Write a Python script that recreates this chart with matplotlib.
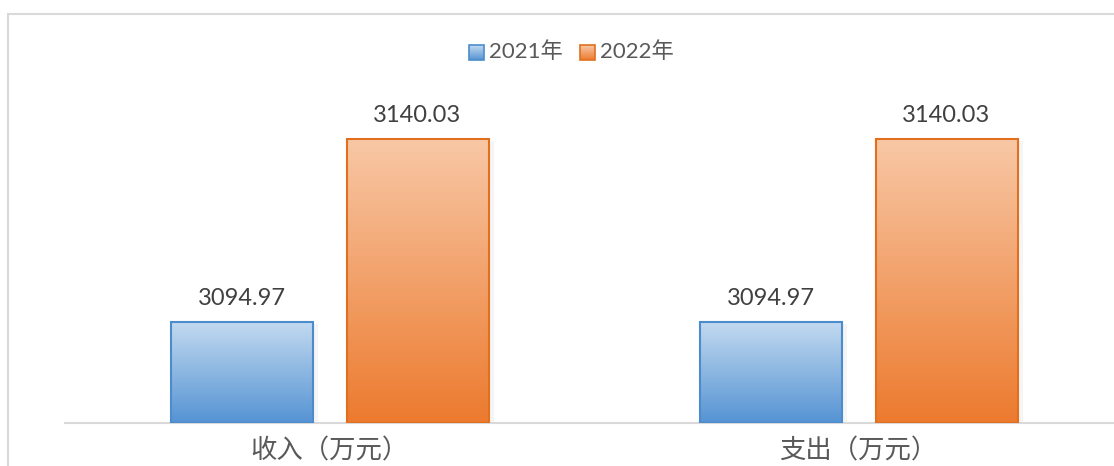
import matplotlib
matplotlib.use("Agg")
import matplotlib.pyplot as plt
from matplotlib.patches import Rectangle
import matplotlib.colors as mcolors
import numpy as np

categories = ["收入（万元）", "支出（万元）"]
series_names = ["2021年", "2022年"]
values_2021 = [3094.97, 3094.97]
values_2022 = [3140.03, 3140.03]

y_min, y_max = 3070, 3150

# gradient (top colour, bottom colour, edge colour) per series
styles = [
    ("#c3daf0", "#5593d3", "#4d8ccc"),
    ("#f8c8a6", "#ec7a2e", "#e06f20"),
]

fig = plt.figure(figsize=(11.14, 4.66), dpi=100)
W, H = 1114, 466

# outer chart frame (right and bottom run off the picture)
fig.patches.append(Rectangle((8 / W, -0.1), 1.2, (466 - 14) / H + 0.1,
                             transform=fig.transFigure, fill=False,
                             edgecolor="#d9d9d9", linewidth=1.5))

ax = fig.add_axes([65 / W, (H - 423) / H, (1123 - 65) / W, (423 - 98) / H])
ax.axis("off")
ax.axhline(y_min, color="#d9d9d9", linewidth=1.5, clip_on=False)

bar_w = 142 / 529
gap = 34 / 529
centers = np.arange(len(categories)) + 0.5
offsets = [-(bar_w + gap) / 2, (bar_w + gap) / 2]

lab_font = ["Lato", "DejaVu Sans"]
cjk_font = ["Noto Sans CJK SC", "DejaVu Sans"]
grad = np.linspace(0, 1, 256).reshape(-1, 1)

for s, vals in enumerate([values_2021, values_2022]):
    top_c, bot_c, edge_c = styles[s]
    cmap = mcolors.LinearSegmentedColormap.from_list("g%d" % s, [bot_c, top_c])
    for i, v in enumerate(vals):
        x0 = centers[i] + offsets[s] - bar_w / 2
        # faint shadow on the right side
        ax.add_patch(Rectangle((x0 + bar_w, y_min), 0.01, v - y_min - 0.5,
                               facecolor="#000000", alpha=0.04, linewidth=0))
        rect = Rectangle((x0, y_min), bar_w, v - y_min, facecolor="none",
                         edgecolor=edge_c, linewidth=1.5, zorder=3)
        ax.add_patch(rect)
        im = ax.imshow(grad, cmap=cmap, aspect="auto", origin="lower",
                       extent=[x0, x0 + bar_w, y_min, v], zorder=2)
        im.set_clip_path(rect)
        ax.text(centers[i] + offsets[s], v + 3.2, f"{v:.2f}", ha="center",
                va="bottom", fontsize=17, color="#404040", family=lab_font)

ax.set_xlim(0, 2)
ax.set_ylim(y_min, y_max)

for i, c in enumerate(categories):
    fig.text((65 + 529 * (i + 0.5)) / W, 2 / H, c, ha="center",
             va="bottom", fontsize=19, color="#595959", family=cjk_font,
             fontweight="light")

# legend
leg_x = [469, 580]
for s, name in enumerate(series_names):
    top_c, bot_c, edge_c = styles[s]
    sq = Rectangle((leg_x[s] / W, (H - 60) / H), 15 / W, 15 / H,
                   transform=fig.transFigure, facecolor="none",
                   edgecolor=edge_c, linewidth=1.2, zorder=3)
    fig.patches.append(sq)
    cmap = mcolors.LinearSegmentedColormap.from_list("l%d" % s, [bot_c, top_c])
    lax = fig.add_axes([leg_x[s] / W, (H - 60) / H, 15 / W, 15 / H])
    lax.imshow(grad, cmap=cmap, aspect="auto", origin="lower")
    lax.axis("off")
    fig.text((leg_x[s] + 20) / W, (H - 52) / H, name, ha="left", va="center",
             fontsize=16, color="#595959", family=["Lato", "Noto Sans CJK SC"])

fig.savefig("out.png", dpi=100)
